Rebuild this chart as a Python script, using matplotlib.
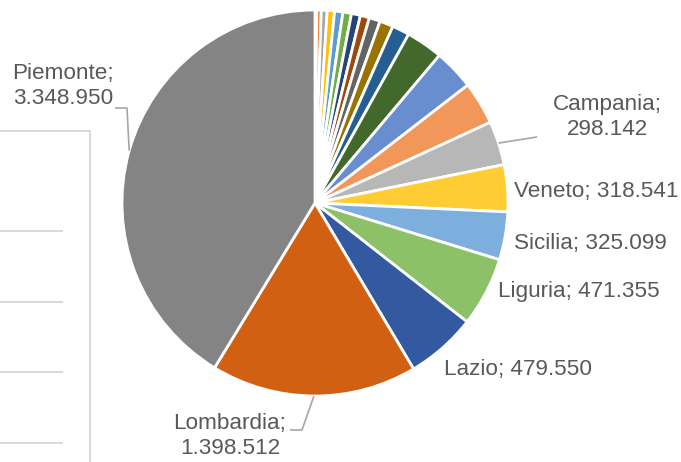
import numpy as np
import matplotlib
matplotlib.use('Agg')
import matplotlib.pyplot as plt

# regions, ascending by value (Excel draws them clockwise from 12 o'clock)
regions = ["Valle d'Aosta", 'Molise', 'Basilicata', 'Umbria', 'Calabria',
           'Sardegna', 'Abruzzo', 'Marche', 'Friuli-Venezia Giulia', 'Puglia',
           'Bolzano', 'Trento', 'Toscana', 'Emilia-Romagna',
           'Campania', 'Veneto', 'Sicilia', 'Liguria', 'Lazio',
           'Lombardia', 'Piemonte']
values = [12000, 30000, 40000, 50000, 56000,
          58000, 61000, 62000, 75000, 92000,
          118000, 250000, 275000, 292000,
          298142, 318541, 325099, 471355, 479550,
          1398512, 3348950]
colors = ['#4472C4', '#ED7D31', '#A5A5A5', '#FFC000', '#5B9BD5', '#70AD47',
          '#264478', '#9E480E', '#636363', '#997300', '#255E91', '#43682B',
          '#698ED0', '#F1975A', '#B7B7B7', '#FFCD33', '#7CAFDD', '#8CC168',
          '#335AA1', '#D26012', '#848484']

W, H = 681, 462
fig = plt.figure(figsize=(W / 100, H / 100), dpi=100)
ax = fig.add_axes([0, 0, 1, 1])

cx, cy, R = 315, H - 203, 193
wedges, _ = ax.pie(values, colors=colors, startangle=90, counterclock=False,
                   center=(cx, cy), radius=R, frame=True,
                   wedgeprops=dict(edgecolor='white', linewidth=2))
ax.set_xlim(0, W)
ax.set_ylim(0, H)
ax.set_aspect('equal')
ax.axis('off')


def fmt(v):
    return f'{v:,}'.replace(',', '.')


def anchor(name):
    w = wedges[regions.index(name)]
    a = np.deg2rad((w.theta1 + w.theta2) / 2)
    return cx + R * np.cos(a), cy + R * np.sin(a)


txt = dict(fontsize=16.2, color='#595959', family='Liberation Sans')
lead = dict(color='#A6A6A6', lw=1.2, solid_capstyle='butt')


def label(name, x, y, ha='left', two_lines=False):
    v = values[regions.index(name)]
    s = f'{name};\n{fmt(v)}' if two_lines else f'{name}; {fmt(v)}'
    ax.text(x, H - y, s, ha=ha, va='center', linespacing=1.2,
            multialignment='center', **txt)


# labelled slices (only the big ones are visible in the crop)
label('Piemonte', 63, 86, ha='center', two_lines=True)
label('Lombardia', 230, 436, ha='center', two_lines=True)
label('Campania', 607, 117, ha='center', two_lines=True)
label('Veneto', 514, 192)
label('Sicilia', 514, 244)
label('Liguria', 498, 291)
label('Lazio', 444, 370)

# leader lines
ax0, ay0 = anchor('Piemonte')
ax.plot([ax0, 127, 115], [ay0, H - 108, H - 108], **lead)
ax0, ay0 = anchor('Lombardia')
ax.plot([ax0, 302, 290], [ay0, H - 430, H - 430], **lead)
ax0, ay0 = anchor('Campania')
ax.plot([ax0, 537], [ay0, H - 137], **lead)

# edge of the neighbouring box on the left
box = dict(color='#D9D9D9', lw=1.4)
ax.plot([0, 90, 90], [H - 131, H - 131, 0], **box)
for yy in [231, 302, 372, 443]:
    ax.plot([0, 62], [H - yy, H - yy], **box)

fig.savefig('out.png', dpi=100, facecolor='white')
